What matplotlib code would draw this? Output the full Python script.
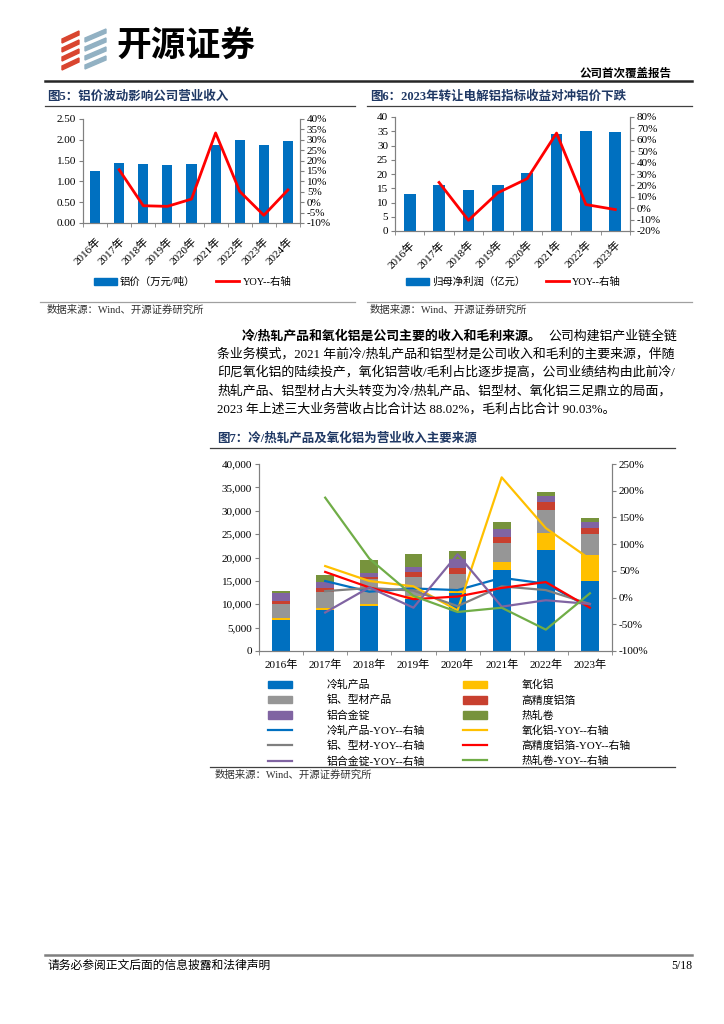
import numpy as np
import matplotlib
matplotlib.use("Agg")
import matplotlib.pyplot as plt
from matplotlib.patches import Patch, Polygon
from matplotlib.lines import Line2D
from matplotlib.ticker import FuncFormatter, FixedLocator

plt.rcParams["font.family"] = ["Liberation Serif", "Noto Sans CJK SC"]
plt.rcParams["axes.unicode_minus"] = False

W, H = 724, 1024
NAVY = "#1F3864"
BLUE = "#0070C0"
RED = "#FF0000"
GRID = "#808080"
nan = np.nan

# ---- 图5 data
years5 = ["2016年", "2017年", "2018年", "2019年", "2020年", "2021年", "2022年", "2023年", "2024年"]
al_price = [1.26, 1.44, 1.42, 1.39, 1.42, 1.88, 2.00, 1.875, 1.98]
al_price_yoy = [nan, 15.6, -1.7, -2.0, 1.5, 33.3, 5.2, -6.3, 5.9]

# ---- 图6 data
years6 = ["2016年", "2017年", "2018年", "2019年", "2020年", "2021年", "2022年", "2023年"]
net_profit = [13.1, 16.1, 14.4, 16.1, 20.4, 34.0, 35.1, 34.6]
net_profit_yoy = [nan, 22.6, -10.6, 13.5, 25.9, 65.9, 3.2, -1.2]

# ---- 图7 data (revenue by segment)
years7 = ["2016年", "2017年", "2018年", "2019年", "2020年", "2021年", "2022年", "2023年"]
cold = [6640, 8790, 9570, 11200, 12450, 17300, 21570, 14930]
alumina = [360, 430, 500, 550, 450, 1650, 3640, 5710]
profile = [3000, 3360, 5290, 4100, 3600, 4200, 4860, 4430]
foil = [710, 930, 570, 1140, 1150, 1300, 1790, 1215]
ingot = [1720, 1210, 860, 1070, 2100, 1650, 1360, 1285]
hot = [500, 1570, 2570, 2640, 1680, 1500, 710, 860]

cold_yoy = [nan, 31, 11, 17, 14, 37, 26, -19]
alumina_yoy = [nan, 59, 31, 21, -24, 225, 130, 72]
profile_yoy = [nan, 12, 18, 13, -16, 21, 14, -12]
foil_yoy = [nan, 48, 19, -3, 2, 18, 29, -19]
ingot_yoy = [nan, -28, 19, -19, 81, -17, -5, -12]
hot_yoy = [nan, 187, 73, 3, -27, -19, -60, 8]

bar_names = ["冷轧产品", "氧化铝", "铝、型材产品", "高精度铝箔", "铝合金锭", "热轧卷"]
bar_colors = ["#0070C0", "#FFC000", "#969696", "#C8402F", "#8064A2", "#77933C"]
line_names = ["冷轧产品-YOY--右轴", "氧化铝-YOY--右轴", "铝、型材-YOY--右轴",
              "高精度铝箔-YOY--右轴", "铝合金锭-YOY--右轴", "热轧卷-YOY--右轴"]
line_colors = ["#0070C0", "#FFC000", "#7F7F7F", "#FF0000", "#8064A2", "#70AD47"]

para = [
    "条业务模式，2021 年前冷/热轧产品和铝型材是公司收入和毛利的主要来源，伴随",
    "印尼氧化铝的陆续投产，氧化铝营收/毛利占比逐步提高，公司业绩结构由此前冷/",
    "热轧产品、铝型材占大头转变为冷/热轧产品、铝型材、氧化铝三足鼎立的局面，",
    "2023 年上述三大业务营收占比合计达 88.02%，毛利占比合计 90.03%。",
]


def fx(x):
    return x / W


def fy(y):
    return 1 - y / H


def add_ax(fig, l, t, r, b):
    return fig.add_axes([l / W, 1 - b / H, (r - l) / W, (b - t) / H])


def hline(fig, x0, x1, y, color, lw):
    fig.add_artist(Line2D([fx(x0), fx(x1)], [fy(y), fy(y)], color=color, lw=lw,
                          transform=fig.transFigure))


def txt(fig, x, y, s, **kw):
    kw.setdefault("va", "center")
    fig.text(fx(x), fy(y), s, **kw)


def style(ax, axr, n, ylab=8):
    for a in (ax, axr):
        a.spines["top"].set_visible(False)
        for s in ("left", "right", "bottom"):
            a.spines[s].set_color(GRID)
            a.spines[s].set_linewidth(0.8)
        a.tick_params(axis="y", length=3, direction="out", color=GRID, labelsize=ylab, pad=2)
    ax.set_xlim(-0.5, n - 0.5)
    ax.set_xticks(range(n))
    ax.xaxis.set_minor_locator(FixedLocator(np.arange(-0.5, n, 1)))
    ax.tick_params(axis="x", which="major", length=0, labelsize=8)
    ax.tick_params(axis="x", which="minor", length=3, direction="out", color=GRID)
    ax.set_facecolor("none")


pct = FuncFormatter(lambda v, _: f"{v:.0f}%")

fig = plt.figure(figsize=(W / 100, H / 100), dpi=100)

# ---- header / logo
for i in range(4):
    yb = 33 + i * 9
    fig.add_artist(Polygon([(fx(62), fy(yb + 6)), (fx(79), fy(yb - 2)), (fx(79), fy(yb + 2)),
                            (fx(62), fy(yb + 10))], closed=True, color="#D9452F",
                           transform=fig.transFigure))
    fig.add_artist(Polygon([(fx(85), fy(yb + 5)), (fx(106), fy(yb - 4)), (fx(106), fy(yb)),
                            (fx(85), fy(yb + 9))], closed=True, color="#92B1C3",
                           transform=fig.transFigure))
txt(fig, 116, 45, "开源证券", family="Noto Sans CJK SC", weight="heavy", fontsize=25)
txt(fig, 672, 74, "公司首次覆盖报告", ha="right", weight="bold", fontsize=8.3)
hline(fig, 45, 692, 81, "#262626", 1.8)

# ---- 图5
txt(fig, 47, 97, "图5：铝价波动影响公司营业收入", weight="bold", color=NAVY, fontsize=9)
hline(fig, 45, 355, 106, "#404040", 0.9)
ax5 = add_ax(fig, 83, 119, 300, 223)
ax5r = ax5.twinx()
ax5.bar(range(len(years5)), al_price, width=0.42, color=BLUE, zorder=2)
ax5r.plot(range(len(years5)), al_price_yoy, color=RED, lw=2)
ax5.set_ylim(0, 2.5)
ax5.set_yticks(np.arange(0, 2.51, 0.5))
ax5.yaxis.set_major_formatter(FuncFormatter(lambda v, _: f"{v:.2f}"))
ax5r.set_ylim(-10, 40)
ax5r.set_yticks(range(-10, 41, 5))
ax5r.yaxis.set_major_formatter(pct)
style(ax5, ax5r, len(years5))
ax5.set_xticklabels(years5, rotation=45, ha="right", va="top", rotation_mode="anchor")
ax5.tick_params(axis="x", which="major", pad=9)
fig.legend(handles=[Patch(color=BLUE), Line2D([], [], color=RED, lw=2)],
           labels=["铝价（万元/吨）", "YOY--右轴"], ncol=2, loc="center left",
           bbox_to_anchor=(fx(94), fy(282)), frameon=False, fontsize=7.5,
           handlelength=2.2, handletextpad=0.3, columnspacing=2.0,
           borderpad=0, borderaxespad=0)
hline(fig, 40, 355, 302, "#A0A0A0", 0.9)
txt(fig, 47, 310, "数据来源：Wind、开源证券研究所", fontsize=7.5, color="#333333")

# ---- 图6
txt(fig, 370, 97, "图6：2023年转让电解铝指标收益对冲铝价下跌", weight="bold", color=NAVY, fontsize=9)
hline(fig, 367, 692, 106, "#404040", 0.9)
ax6 = add_ax(fig, 395, 117, 630, 231)
ax6r = ax6.twinx()
ax6.bar(range(len(years6)), net_profit, width=0.4, color=BLUE, zorder=2)
ax6r.plot(range(len(years6)), net_profit_yoy, color=RED, lw=2)
ax6.set_ylim(0, 40)
ax6.set_yticks(range(0, 41, 5))
ax6r.set_ylim(-20, 80)
ax6r.set_yticks(range(-20, 81, 10))
ax6r.yaxis.set_major_formatter(pct)
style(ax6, ax6r, len(years6))
ax6.set_xticklabels(years6, rotation=45, ha="right", va="top", rotation_mode="anchor")
ax6.tick_params(axis="x", which="major", pad=6)
fig.legend(handles=[Patch(color=BLUE), Line2D([], [], color=RED, lw=2)],
           labels=["归母净利润（亿元）", "YOY--右轴"], ncol=2, loc="center left",
           bbox_to_anchor=(fx(406), fy(282)), frameon=False, fontsize=7.5,
           handlelength=2.2, handletextpad=0.3, columnspacing=2.0,
           borderpad=0, borderaxespad=0)
hline(fig, 367, 692, 302, "#A0A0A0", 0.9)
txt(fig, 370, 310, "数据来源：Wind、开源证券研究所", fontsize=7.5, color="#333333")

# ---- paragraph
txt(fig, 242, 336, "冷/热轧产品和氧化铝是公司主要的收入和毛利来源。", weight="bold", fontsize=9.3)
txt(fig, 677, 336, "公司构建铝产业链全链", ha="right", fontsize=9.3)
for i, line in enumerate(para):
    txt(fig, 217, 354 + i * 18.4, line, fontsize=9.3)

# ---- 图7
txt(fig, 217, 438, "图7：冷/热轧产品及氧化铝为营业收入主要来源", weight="bold", color=NAVY, fontsize=9)
hline(fig, 210, 675, 448, "#404040", 0.9)
ax7 = add_ax(fig, 259, 464, 612, 651)
ax7r = ax7.twinx()
x7 = np.arange(len(years7))
bottom = np.zeros(len(years7))
for vals, c in zip([cold, alumina, profile, foil, ingot, hot], bar_colors):
    ax7.bar(x7, vals, width=0.4, bottom=bottom, color=c, zorder=2)
    bottom += np.array(vals)
for vals, c in zip([cold_yoy, alumina_yoy, profile_yoy, foil_yoy, ingot_yoy, hot_yoy], line_colors):
    ax7r.plot(x7, vals, color=c, lw=1.6)
ax7.set_ylim(0, 40000)
ax7.set_yticks(range(0, 40001, 5000))
ax7.yaxis.set_major_formatter(FuncFormatter(lambda v, _: f"{v:,.0f}"))
ax7r.set_ylim(-100, 250)
ax7r.set_yticks(range(-100, 251, 50))
ax7r.yaxis.set_major_formatter(pct)
style(ax7, ax7r, len(years7))
ax7.set_xticklabels(years7)
ax7.tick_params(axis="x", which="major", pad=6)

order = [0, 2, 4]
h1 = [Patch(color=bar_colors[i]) for i in order] + [Line2D([], [], color=line_colors[i], lw=1.6) for i in order]
l1 = [bar_names[i] for i in order] + [line_names[i] for i in order]
order2 = [1, 3, 5]
h2 = [Patch(color=bar_colors[i]) for i in order2] + [Line2D([], [], color=line_colors[i], lw=1.6) for i in order2]
l2 = [bar_names[i] for i in order2] + [line_names[i] for i in order2]
for hs, ls, x0 in [(h1, l1, 268), (h2, l2, 463)]:
    fig.legend(handles=hs, labels=ls, loc="upper left", bbox_to_anchor=(fx(x0), fy(680)),
               frameon=False, fontsize=7.8, handlelength=2.2, handletextpad=3.2,
               labelspacing=0.44, borderpad=0, borderaxespad=0)
hline(fig, 210, 675, 767, "#404040", 0.9)
txt(fig, 215, 775, "数据来源：Wind、开源证券研究所", fontsize=7.5, color="#333333")

# ---- footer
hline(fig, 45, 692, 955, "#7F7F7F", 1.8)
txt(fig, 47, 966, "请务必参阅正文后面的信息披露和法律声明", fontsize=8.5)
txt(fig, 692, 966, "5/18", ha="right", fontsize=8.5)

fig.savefig("out.png", dpi=100)
